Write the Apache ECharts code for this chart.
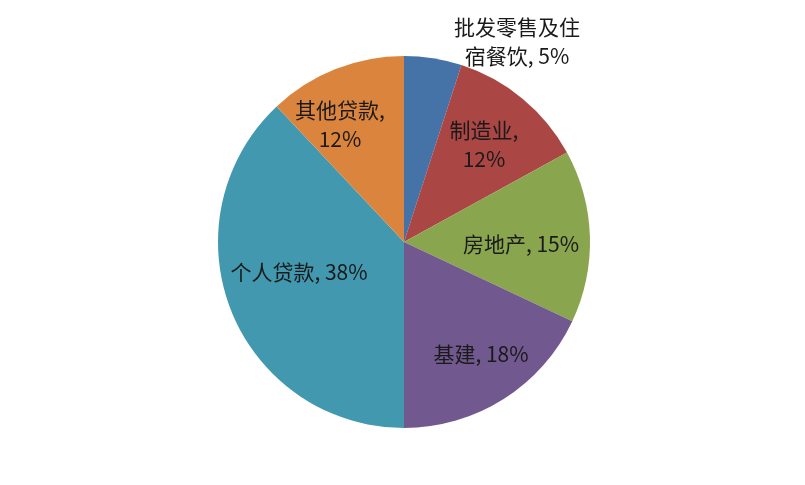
<!DOCTYPE html>
<html><head><meta charset="utf-8">
<script src="https://cdn.jsdelivr.net/npm/echarts@6/dist/echarts.min.js"></script>
<style>html,body{margin:0;padding:0;background:#fff}#c{width:805px;height:485px}</style>
</head><body><div id="c"></div>
<script>
const categories = ['批发零售及住宿餐饮','制造业','房地产','基建','个人贷款','其他贷款'];
const values = [5, 12, 15, 18, 38, 12];
const labelTexts = ['批发零售及住\n宿餐饮, 5%','制造业,\n12%','房地产, 15%','基建, 18%','个人贷款, 38%','其他贷款,\n12%'];
const colors = ['#4572A7','#AA4643','#89A54E','#71588F','#4198AF','#DB843D'];
// label anchor points (layout only)
const labelAnchors = [[517,42],[484,145],[521,244],[481,354],[299,272],[340,125]];

const chart = echarts.init(document.getElementById('c'));
chart.setOption({
  animation:false,
  series:[{
    type:'pie',
    center:[404,242],
    radius:186,
    startAngle:90,
    clockwise:true,
    data: categories.map((n,i)=>({name:n, value:values[i], itemStyle:{color:colors[i]}})),
    itemStyle:{borderWidth:0},
    label:{
      show:true, position:'inside',
      formatter:p=>labelTexts[p.dataIndex],
      color:'#1a1a1a', fontSize:21, lineHeight:29,
      fontFamily:'"Noto Sans CJK SC", sans-serif', align:'center'
    },
    labelLine:{show:false},
    labelLayout: p => ({x:labelAnchors[p.dataIndex][0], y:labelAnchors[p.dataIndex][1], align:'center', verticalAlign:'middle'})
  }]
});
</script></body></html>
